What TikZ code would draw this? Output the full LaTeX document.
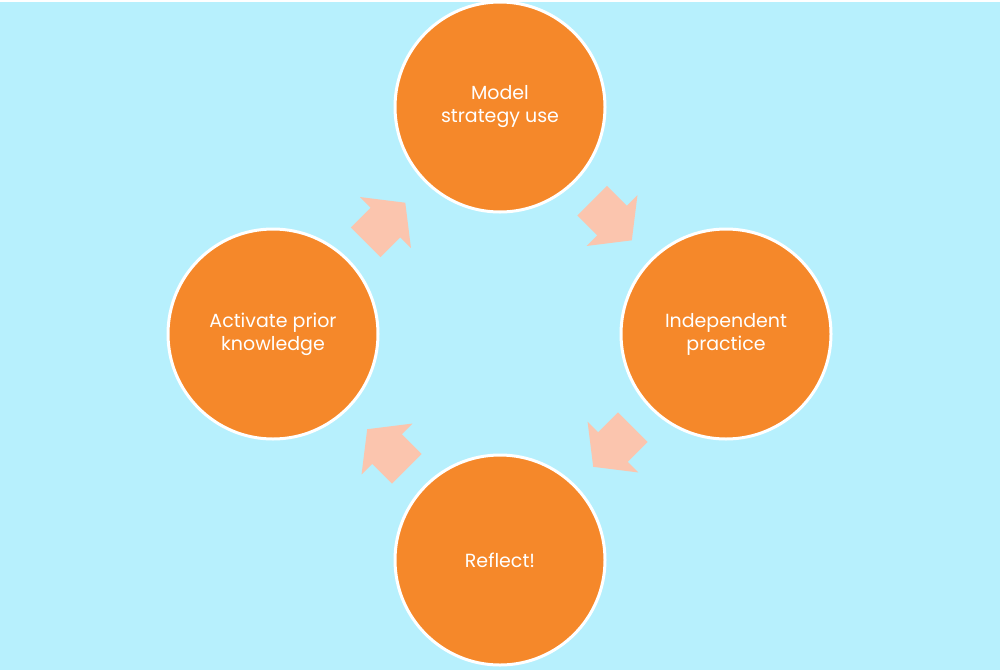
\documentclass[tikz,border=0pt]{standalone}
\usepackage{fontspec}
\setmainfont{Poppins}
\definecolor{bgcyan}{RGB}{183,240,253}
\definecolor{stageorange}{RGB}{245,136,42}
\definecolor{cyclepeach}{RGB}{251,197,174}
\tikzset{
    cyclearrow/.pic={
        \fill[cyclepeach] (-28,-21) -- (0,-21) -- (0,-36) -- (28,0) -- (0,36) -- (0,21) -- (-28,21) -- cycle;
    }
}
\begin{document}
\begin{tikzpicture}[x=1pt,y=-1pt,
        stage/.style={circle, draw=white, line width=3pt, fill=stageorange, minimum size=210pt, inner sep=0pt, align=center, text=white, font=\fontsize{19}{23}\selectfont}
    ]
        \useasboundingbox (0,0) rectangle (1000,670);
        \fill[white] (0,0) rectangle (1000,670);
        \fill[bgcyan] (0,2) rectangle (1000,670);

        \node[stage] (model) at (500,107) {Model\\strategy use};
        \node[stage] (practice) at (726,334) {Independent\\practice};
        \node[stage] (reflect) at (500,560) {Reflect!};
        \node[stage] (activate) at (273,334) {Activate prior\\knowledge};

        \pic[rotate=45] (toModel) at (385.5,222.5) {cyclearrow};
        \pic[rotate=-45] (toPractice) at (612,220.5) {cyclearrow};
        \pic[rotate=-135] (toReflect) at (613,447) {cyclearrow};
        \pic[rotate=135] (toActivate) at (387,449) {cyclearrow};
    \end{tikzpicture}
\end{document}
